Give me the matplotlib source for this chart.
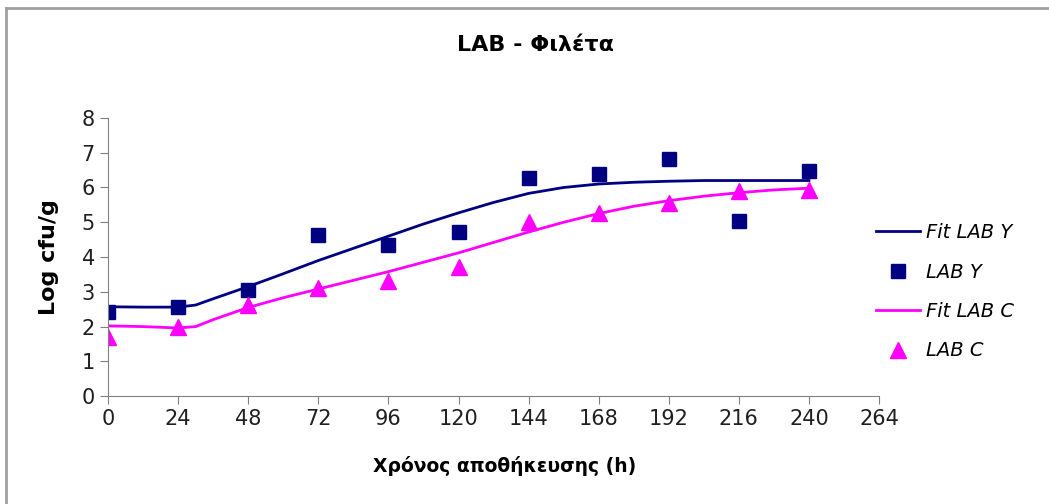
import numpy as np
import matplotlib
matplotlib.use("Agg")
from matplotlib import pyplot as plt
from matplotlib.lines import Line2D

plt.rcParams['font.family'] = ['DejaVu Sans']

# measured points
hours = [0, 24, 48, 72, 96, 120, 144, 168, 192, 216, 240]
lab_y = [2.42, 2.57, 3.05, 4.63, 4.35, 4.73, 6.26, 6.39, 6.82, 5.04, 6.47]
lab_c = [1.71, 1.98, 2.62, 3.10, 3.31, 3.72, 5.02, 5.26, 5.55, 5.90, 5.93]

# fitted curves
fit_t = [0, 12, 24, 30, 36, 48, 60, 72, 84, 96, 108, 120, 132, 144, 156,
         168, 180, 192, 204, 216, 228, 240]
fit_y = [2.57, 2.56, 2.56, 2.62, 2.80, 3.15, 3.52, 3.90, 4.25, 4.60, 4.95,
         5.27, 5.57, 5.83, 6.00, 6.10, 6.15, 6.18, 6.20, 6.20, 6.20, 6.20]
fit_c = [2.02, 2.00, 1.96, 2.00, 2.20, 2.55, 2.83, 3.08, 3.33, 3.58, 3.85,
         4.12, 4.42, 4.72, 5.00, 5.25, 5.46, 5.62, 5.75, 5.85, 5.93, 5.98]

xticks = np.arange(0, 265, 24)
yticks = np.arange(0, 9, 1)

navy = '#000080'
magenta = '#ff00ff'
gray = '#808080'

fig = plt.figure(figsize=(10.49, 5.04), dpi=100)
ax = fig.add_axes([0.103, 0.214, 0.735, 0.552])

ax.plot(fit_t, fit_y, color=navy, lw=2, label='Fit LAB Y')
ax.plot(hours, lab_y, 's', color=navy, ms=10, ls='none', label='LAB Y')
ax.plot(fit_t, fit_c, color=magenta, lw=2, label='Fit LAB C')
ax.plot(hours, lab_c, '^', color=magenta, ms=12, ls='none', label='LAB C')

ax.set_xlim(0, 264)
ax.set_ylim(0, 8)
ax.set_xticks(xticks)
ax.set_yticks(yticks)
ax.spines['top'].set_visible(False)
ax.spines['right'].set_visible(False)
for s in ['left', 'bottom']:
    ax.spines[s].set_color(gray)
ax.tick_params(colors=gray, labelcolor='#202020', labelsize=15, length=6,
               direction='out')

ax.set_xlabel('Χρόνος αποθήκευσης (h)', fontsize=13.5, fontweight='bold')
ax.xaxis.set_label_coords(0.514, -0.215)
ax.set_ylabel('Log cfu/g', fontsize=16, fontweight='bold', labelpad=16)
fig.text(0.51, 0.91, 'LAB - Φιλέτα', fontsize=16, fontweight='bold',
         ha='center', va='center')

leg = fig.legend(loc='upper left', bbox_to_anchor=(0.818, 0.592),
                 frameon=False, fontsize=14, labelspacing=1.05,
                 handlelength=2.3, handletextpad=0.3)
for t in leg.get_texts():
    t.set_fontstyle('italic')

# outer chart border (top and left visible)
fig.add_artist(Line2D([0.006, 1.0], [0.985, 0.985], color='#a0a0a0', lw=2,
                      transform=fig.transFigure))
fig.add_artist(Line2D([0.006, 0.006], [0.0, 0.985], color='#a0a0a0', lw=2,
                      transform=fig.transFigure))

fig.savefig('out.png', dpi=100)
